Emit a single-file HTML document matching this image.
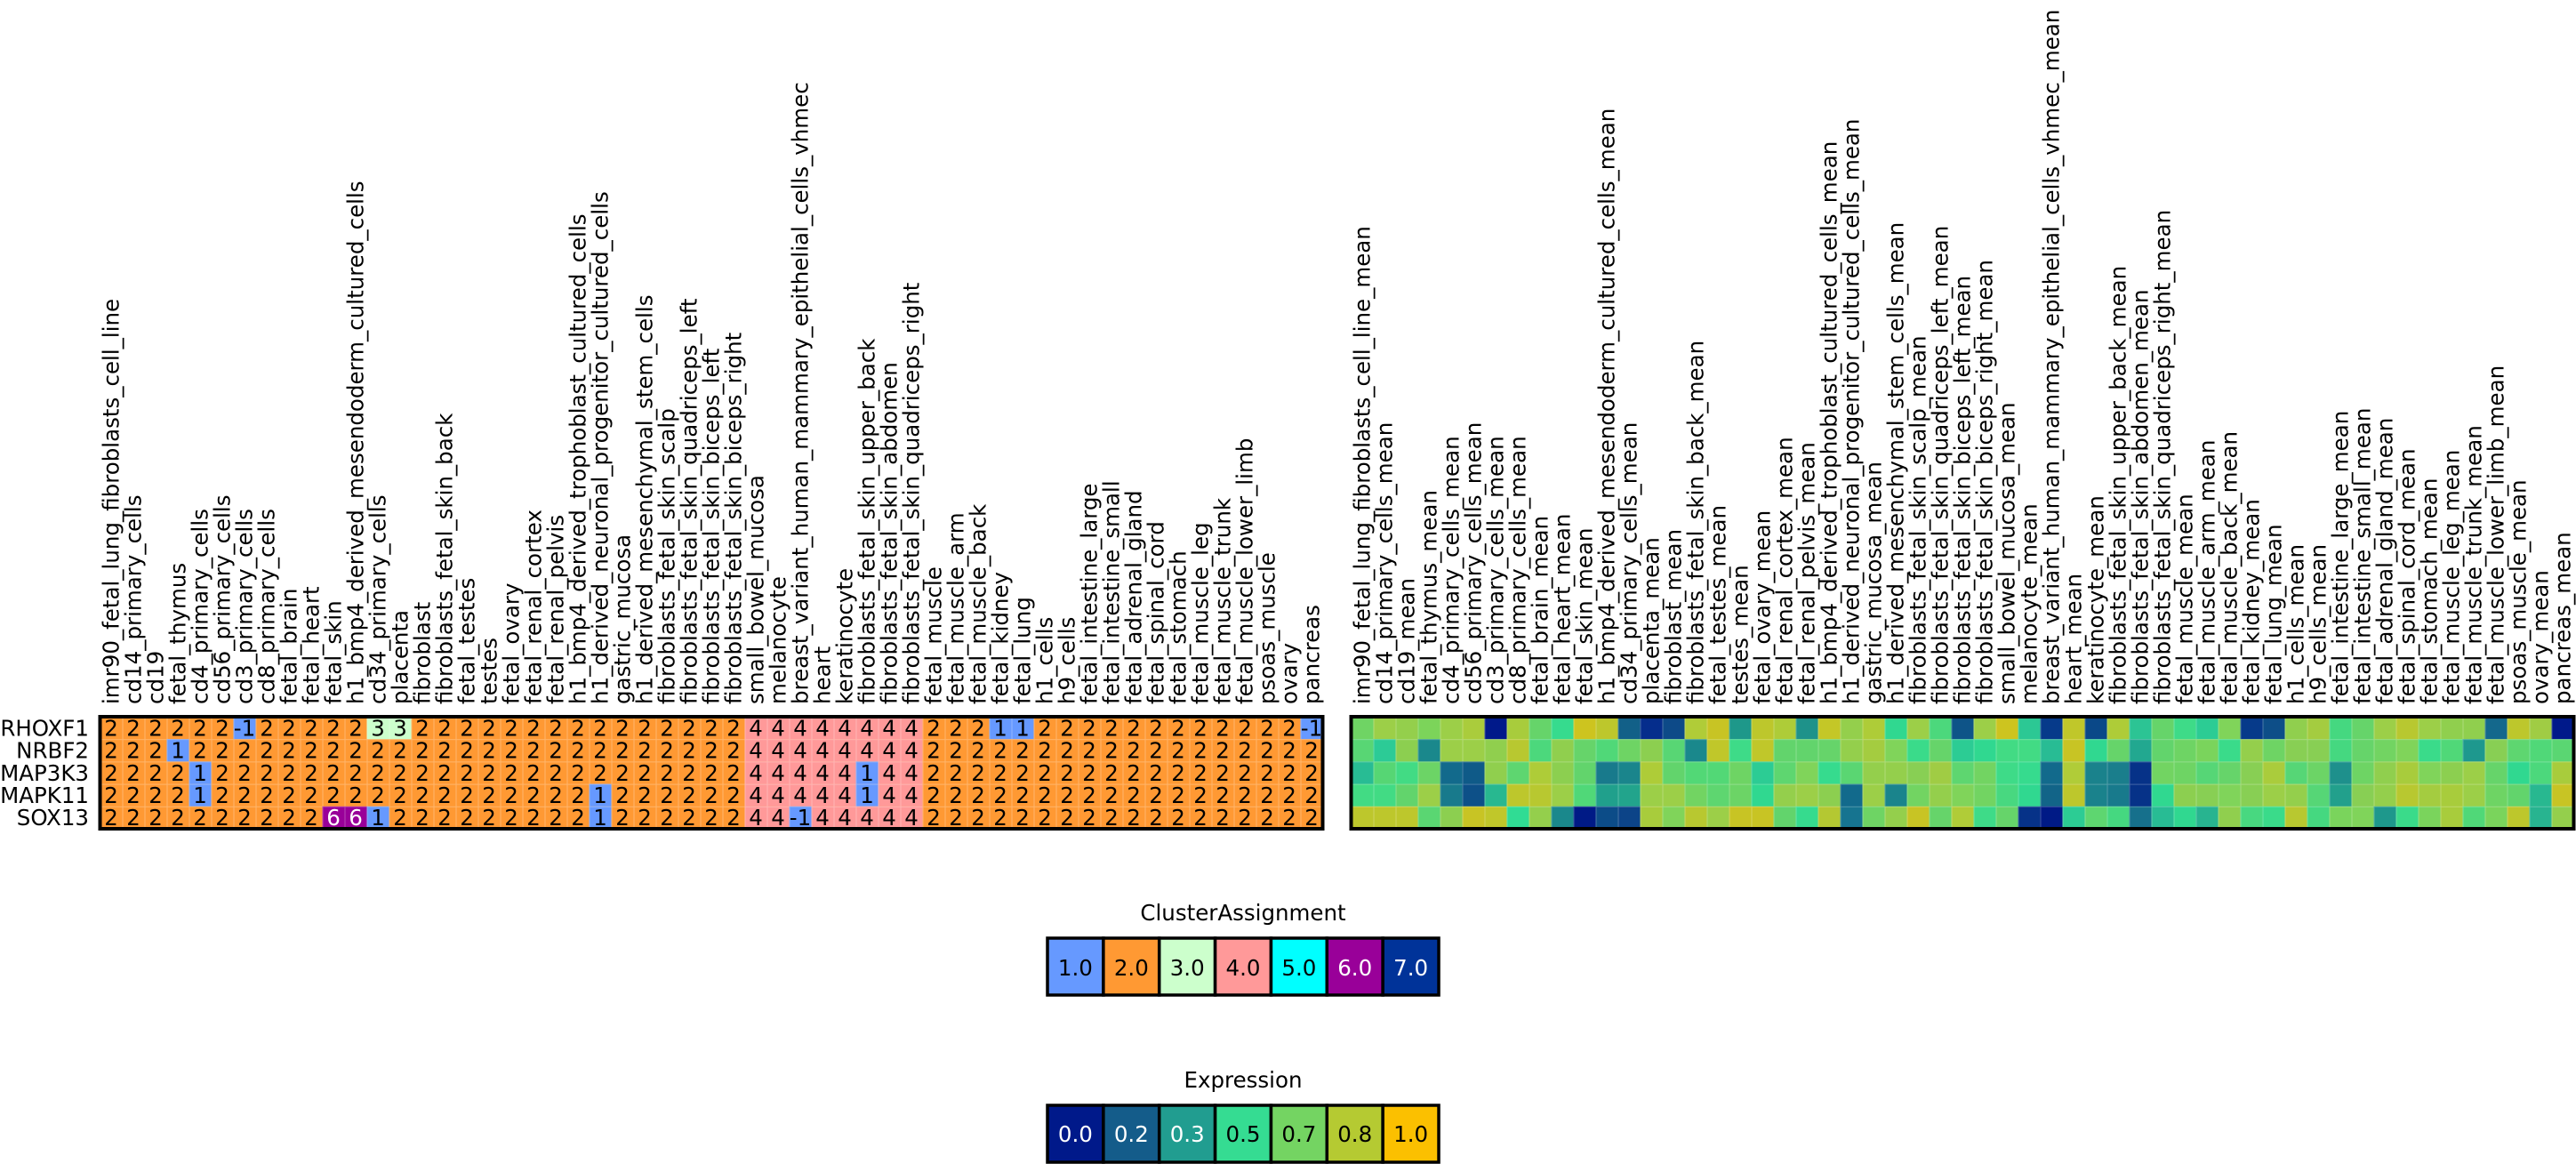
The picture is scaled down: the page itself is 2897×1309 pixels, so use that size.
<!DOCTYPE html>
<html><head><meta charset="utf-8"><style>
html,body{margin:0;padding:0;background:#fff;}
svg{display:block;}
text{font-family:"DejaVu Sans","Liberation Sans",sans-serif;font-size:24.5px;}
</style></head><body>
<svg width="2897" height="1309" viewBox="0 0 2897 1309" xmlns="http://www.w3.org/2000/svg">
<defs>
<pattern id="gl" patternUnits="userSpaceOnUse" x="112.5" y="806" width="25" height="25.2"><path d="M0,0.5H25M0.5,0V25.2" stroke="rgba(255,255,255,0.28)" stroke-width="1" fill="none"/></pattern>
<pattern id="gr" patternUnits="userSpaceOnUse" x="1519.5" y="806" width="25" height="25.2"><path d="M0,0.5H25M0.5,0V25.2" stroke="rgba(255,255,255,0.25)" stroke-width="1" fill="none"/></pattern>
</defs>
<rect width="2897" height="1309" fill="#fff"/>

<!-- column labels left -->
<g transform="translate(0,792) rotate(-90)" fill="#000">
<text x="0" y="125" dy=".35em">imr90_fetal_lung_fibroblasts_cell_line</text>
<text x="0" y="150" dy=".35em">cd14_primary_cells</text>
<text x="0" y="175" dy=".35em">cd19</text>
<text x="0" y="200" dy=".35em">fetal_thymus</text>
<text x="0" y="225" dy=".35em">cd4_primary_cells</text>
<text x="0" y="250" dy=".35em">cd56_primary_cells</text>
<text x="0" y="275" dy=".35em">cd3_primary_cells</text>
<text x="0" y="300" dy=".35em">cd8_primary_cells</text>
<text x="0" y="325" dy=".35em">fetal_brain</text>
<text x="0" y="350" dy=".35em">fetal_heart</text>
<text x="0" y="375" dy=".35em">fetal_skin</text>
<text x="0" y="400" dy=".35em">h1_bmp4_derived_mesendoderm_cultured_cells</text>
<text x="0" y="425" dy=".35em">cd34_primary_cells</text>
<text x="0" y="450" dy=".35em">placenta</text>
<text x="0" y="475" dy=".35em">fibroblast</text>
<text x="0" y="500" dy=".35em">fibroblasts_fetal_skin_back</text>
<text x="0" y="525" dy=".35em">fetal_testes</text>
<text x="0" y="550" dy=".35em">testes</text>
<text x="0" y="575" dy=".35em">fetal_ovary</text>
<text x="0" y="600" dy=".35em">fetal_renal_cortex</text>
<text x="0" y="625" dy=".35em">fetal_renal_pelvis</text>
<text x="0" y="650" dy=".35em">h1_bmp4_derived_trophoblast_cultured_cells</text>
<text x="0" y="675" dy=".35em">h1_derived_neuronal_progenitor_cultured_cells</text>
<text x="0" y="700" dy=".35em">gastric_mucosa</text>
<text x="0" y="725" dy=".35em">h1_derived_mesenchymal_stem_cells</text>
<text x="0" y="750" dy=".35em">fibroblasts_fetal_skin_scalp</text>
<text x="0" y="775" dy=".35em">fibroblasts_fetal_skin_quadriceps_left</text>
<text x="0" y="800" dy=".35em">fibroblasts_fetal_skin_biceps_left</text>
<text x="0" y="825" dy=".35em">fibroblasts_fetal_skin_biceps_right</text>
<text x="0" y="850" dy=".35em">small_bowel_mucosa</text>
<text x="0" y="875" dy=".35em">melanocyte</text>
<text x="0" y="900" dy=".35em">breast_variant_human_mammary_epithelial_cells_vhmec</text>
<text x="0" y="925" dy=".35em">heart</text>
<text x="0" y="950" dy=".35em">keratinocyte</text>
<text x="0" y="975" dy=".35em">fibroblasts_fetal_skin_upper_back</text>
<text x="0" y="1000" dy=".35em">fibroblasts_fetal_skin_abdomen</text>
<text x="0" y="1025" dy=".35em">fibroblasts_fetal_skin_quadriceps_right</text>
<text x="0" y="1050" dy=".35em">fetal_muscle</text>
<text x="0" y="1075" dy=".35em">fetal_muscle_arm</text>
<text x="0" y="1100" dy=".35em">fetal_muscle_back</text>
<text x="0" y="1125" dy=".35em">fetal_kidney</text>
<text x="0" y="1150" dy=".35em">fetal_lung</text>
<text x="0" y="1175" dy=".35em">h1_cells</text>
<text x="0" y="1200" dy=".35em">h9_cells</text>
<text x="0" y="1225" dy=".35em">fetal_intestine_large</text>
<text x="0" y="1250" dy=".35em">fetal_intestine_small</text>
<text x="0" y="1275" dy=".35em">fetal_adrenal_gland</text>
<text x="0" y="1300" dy=".35em">fetal_spinal_cord</text>
<text x="0" y="1325" dy=".35em">fetal_stomach</text>
<text x="0" y="1350" dy=".35em">fetal_muscle_leg</text>
<text x="0" y="1375" dy=".35em">fetal_muscle_trunk</text>
<text x="0" y="1400" dy=".35em">fetal_muscle_lower_limb</text>
<text x="0" y="1425" dy=".35em">psoas_muscle</text>
<text x="0" y="1450" dy=".35em">ovary</text>
<text x="0" y="1475" dy=".35em">pancreas</text>
</g>

<!-- column labels right -->
<g transform="translate(0,792) rotate(-90)" fill="#000">
<text x="0" y="1532" dy=".35em">imr90_fetal_lung_fibroblasts_cell_line_mean</text>
<text x="0" y="1557" dy=".35em">cd14_primary_cells_mean</text>
<text x="0" y="1582" dy=".35em">cd19_mean</text>
<text x="0" y="1607" dy=".35em">fetal_thymus_mean</text>
<text x="0" y="1632" dy=".35em">cd4_primary_cells_mean</text>
<text x="0" y="1657" dy=".35em">cd56_primary_cells_mean</text>
<text x="0" y="1682" dy=".35em">cd3_primary_cells_mean</text>
<text x="0" y="1707" dy=".35em">cd8_primary_cells_mean</text>
<text x="0" y="1732" dy=".35em">fetal_brain_mean</text>
<text x="0" y="1757" dy=".35em">fetal_heart_mean</text>
<text x="0" y="1782" dy=".35em">fetal_skin_mean</text>
<text x="0" y="1807" dy=".35em">h1_bmp4_derived_mesendoderm_cultured_cells_mean</text>
<text x="0" y="1832" dy=".35em">cd34_primary_cells_mean</text>
<text x="0" y="1857" dy=".35em">placenta_mean</text>
<text x="0" y="1882" dy=".35em">fibroblast_mean</text>
<text x="0" y="1907" dy=".35em">fibroblasts_fetal_skin_back_mean</text>
<text x="0" y="1932" dy=".35em">fetal_testes_mean</text>
<text x="0" y="1957" dy=".35em">testes_mean</text>
<text x="0" y="1982" dy=".35em">fetal_ovary_mean</text>
<text x="0" y="2007" dy=".35em">fetal_renal_cortex_mean</text>
<text x="0" y="2032" dy=".35em">fetal_renal_pelvis_mean</text>
<text x="0" y="2057" dy=".35em">h1_bmp4_derived_trophoblast_cultured_cells_mean</text>
<text x="0" y="2082" dy=".35em">h1_derived_neuronal_progenitor_cultured_cells_mean</text>
<text x="0" y="2107" dy=".35em">gastric_mucosa_mean</text>
<text x="0" y="2132" dy=".35em">h1_derived_mesenchymal_stem_cells_mean</text>
<text x="0" y="2157" dy=".35em">fibroblasts_fetal_skin_scalp_mean</text>
<text x="0" y="2182" dy=".35em">fibroblasts_fetal_skin_quadriceps_left_mean</text>
<text x="0" y="2207" dy=".35em">fibroblasts_fetal_skin_biceps_left_mean</text>
<text x="0" y="2232" dy=".35em">fibroblasts_fetal_skin_biceps_right_mean</text>
<text x="0" y="2257" dy=".35em">small_bowel_mucosa_mean</text>
<text x="0" y="2282" dy=".35em">melanocyte_mean</text>
<text x="0" y="2307" dy=".35em">breast_variant_human_mammary_epithelial_cells_vhmec_mean</text>
<text x="0" y="2332" dy=".35em">heart_mean</text>
<text x="0" y="2357" dy=".35em">keratinocyte_mean</text>
<text x="0" y="2382" dy=".35em">fibroblasts_fetal_skin_upper_back_mean</text>
<text x="0" y="2407" dy=".35em">fibroblasts_fetal_skin_abdomen_mean</text>
<text x="0" y="2432" dy=".35em">fibroblasts_fetal_skin_quadriceps_right_mean</text>
<text x="0" y="2457" dy=".35em">fetal_muscle_mean</text>
<text x="0" y="2482" dy=".35em">fetal_muscle_arm_mean</text>
<text x="0" y="2507" dy=".35em">fetal_muscle_back_mean</text>
<text x="0" y="2532" dy=".35em">fetal_kidney_mean</text>
<text x="0" y="2557" dy=".35em">fetal_lung_mean</text>
<text x="0" y="2582" dy=".35em">h1_cells_mean</text>
<text x="0" y="2607" dy=".35em">h9_cells_mean</text>
<text x="0" y="2632" dy=".35em">fetal_intestine_large_mean</text>
<text x="0" y="2657" dy=".35em">fetal_intestine_small_mean</text>
<text x="0" y="2682" dy=".35em">fetal_adrenal_gland_mean</text>
<text x="0" y="2707" dy=".35em">fetal_spinal_cord_mean</text>
<text x="0" y="2732" dy=".35em">fetal_stomach_mean</text>
<text x="0" y="2757" dy=".35em">fetal_muscle_leg_mean</text>
<text x="0" y="2782" dy=".35em">fetal_muscle_trunk_mean</text>
<text x="0" y="2807" dy=".35em">fetal_muscle_lower_limb_mean</text>
<text x="0" y="2832" dy=".35em">psoas_muscle_mean</text>
<text x="0" y="2857" dy=".35em">ovary_mean</text>
<text x="0" y="2882" dy=".35em">pancreas_mean</text>
</g>

<!-- row labels -->
<g text-anchor="end" fill="#000">
<text x="100" y="818.6" dy=".36em">RHOXF1</text>
<text x="100" y="843.8" dy=".36em">NRBF2</text>
<text x="100" y="869" dy=".36em">MAP3K3</text>
<text x="100" y="894.2" dy=".36em">MAPK11</text>
<text x="100" y="919.4" dy=".36em">SOX13</text>
</g>

<!-- LEFT HEATMAP -->
<rect x="112.5" y="806" width="1375" height="126" fill="#ff9933"/>
<g text-anchor="middle" fill="#000">
<text x="125 150 175 200 225 250 275 300 325 350 375 400 425 450 475 500 525 550 575 600 625 650 675 700 725 750 775 800 825 850 875 900 925 950 975 1000 1025 1050 1075 1100 1125 1150 1175 1200 1225 1250 1275 1300 1325 1350 1375 1400 1425 1450 1475" y="818.6" dy=".36em">2222222222222222222222222222222222222222222222222222222</text>
<text x="125 150 175 200 225 250 275 300 325 350 375 400 425 450 475 500 525 550 575 600 625 650 675 700 725 750 775 800 825 850 875 900 925 950 975 1000 1025 1050 1075 1100 1125 1150 1175 1200 1225 1250 1275 1300 1325 1350 1375 1400 1425 1450 1475" y="843.8" dy=".36em">2222222222222222222222222222222222222222222222222222222</text>
<text x="125 150 175 200 225 250 275 300 325 350 375 400 425 450 475 500 525 550 575 600 625 650 675 700 725 750 775 800 825 850 875 900 925 950 975 1000 1025 1050 1075 1100 1125 1150 1175 1200 1225 1250 1275 1300 1325 1350 1375 1400 1425 1450 1475" y="869" dy=".36em">2222222222222222222222222222222222222222222222222222222</text>
<text x="125 150 175 200 225 250 275 300 325 350 375 400 425 450 475 500 525 550 575 600 625 650 675 700 725 750 775 800 825 850 875 900 925 950 975 1000 1025 1050 1075 1100 1125 1150 1175 1200 1225 1250 1275 1300 1325 1350 1375 1400 1425 1450 1475" y="894.2" dy=".36em">2222222222222222222222222222222222222222222222222222222</text>
<text x="125 150 175 200 225 250 275 300 325 350 375 400 425 450 475 500 525 550 575 600 625 650 675 700 725 750 775 800 825 850 875 900 925 950 975 1000 1025 1050 1075 1100 1125 1150 1175 1200 1225 1250 1275 1300 1325 1350 1375 1400 1425 1450 1475" y="919.4" dy=".36em">2222222222222222222222222222222222222222222222222222222</text>
</g>
<!-- non-2 cells -->
<g>
<rect x="262.5" y="806" width="25" height="25.2" fill="#6699ff"/>
<rect x="412.5" y="806" width="50" height="25.2" fill="#ccffcc"/>
<rect x="837.5" y="806" width="200" height="25.2" fill="#ff9999"/>
<rect x="1112.5" y="806" width="50" height="25.2" fill="#6699ff"/>
<rect x="1462.5" y="806" width="25" height="25.2" fill="#6699ff"/>

<rect x="187.5" y="831.2" width="25" height="25.2" fill="#6699ff"/>
<rect x="837.5" y="831.2" width="200" height="25.2" fill="#ff9999"/>

<rect x="212.5" y="856.4" width="25" height="25.2" fill="#6699ff"/>
<rect x="837.5" y="856.4" width="200" height="25.2" fill="#ff9999"/>
<rect x="962.5" y="856.4" width="25" height="25.2" fill="#6699ff"/>

<rect x="212.5" y="881.6" width="25" height="25.2" fill="#6699ff"/>
<rect x="662.5" y="881.6" width="25" height="25.2" fill="#6699ff"/>
<rect x="837.5" y="881.6" width="200" height="25.2" fill="#ff9999"/>
<rect x="962.5" y="881.6" width="25" height="25.2" fill="#6699ff"/>

<rect x="362.5" y="906.8" width="50" height="25.2" fill="#990099"/>
<rect x="412.5" y="906.8" width="25" height="25.2" fill="#6699ff"/>
<rect x="662.5" y="906.8" width="25" height="25.2" fill="#6699ff"/>
<rect x="837.5" y="906.8" width="200" height="25.2" fill="#ff9999"/>
<rect x="887.5" y="906.8" width="25" height="25.2" fill="#6699ff"/>
</g>
<g text-anchor="middle" fill="#000">
<text x="275" y="818.6" dy=".36em">-1</text>
<text x="425 450" y="818.6" dy=".36em">33</text>
<text x="850 875 900 925 950 975 1000 1025" y="818.6" dy=".36em">44444444</text>
<text x="1125 1150" y="818.6" dy=".36em">11</text>
<text x="1475" y="818.6" dy=".36em">-1</text>

<text x="200" y="843.8" dy=".36em">1</text>
<text x="850 875 900 925 950 975 1000 1025" y="843.8" dy=".36em">44444444</text>

<text x="225" y="869" dy=".36em">1</text>
<text x="850 875 900 925 950 1000 1025" y="869" dy=".36em">4444444</text>
<text x="975" y="869" dy=".36em">1</text>

<text x="225" y="894.2" dy=".36em">1</text>
<text x="675" y="894.2" dy=".36em">1</text>
<text x="850 875 900 925 950 1000 1025" y="894.2" dy=".36em">4444444</text>
<text x="975" y="894.2" dy=".36em">1</text>

<text x="375 400" y="919.4" dy=".36em" fill="#fff">66</text>
<text x="425" y="919.4" dy=".36em">1</text>
<text x="675" y="919.4" dy=".36em">1</text>
<text x="850 875 925 950 975 1000 1025" y="919.4" dy=".36em">4444444</text>
<text x="900" y="919.4" dy=".36em">-1</text>
</g>
<rect x="112.5" y="806" width="1375" height="126" fill="url(#gl)"/>
<rect x="112.5" y="806" width="1375" height="126" fill="none" stroke="#000" stroke-width="4"/>

<!-- RIGHT HEATMAP -->
<g transform="translate(1519.5,806)">
<g>
<rect x="0" width="25.4" height="25.6" fill="#6fd464"/><rect x="25" width="25.4" height="25.6" fill="#9ccf48"/><rect x="50" width="25.4" height="25.6" fill="#94cf4c"/><rect x="75" width="25.4" height="25.6" fill="#7cd45a"/><rect x="100" width="25.4" height="25.6" fill="#9ccf48"/><rect x="125" width="25.4" height="25.6" fill="#aacc3c"/><rect x="150" width="25.4" height="25.6" fill="#00198a"/><rect x="175" width="25.4" height="25.6" fill="#a8cc3c"/><rect x="200" width="25.4" height="25.6" fill="#66d46a"/><rect x="225" width="25.4" height="25.6" fill="#36db8e"/>
<rect x="250" width="25.4" height="25.6" fill="#cdc41f"/><rect x="275" width="25.4" height="25.6" fill="#bdc72c"/><rect x="300" width="25.4" height="25.6" fill="#126088"/><rect x="325" width="25.4" height="25.6" fill="#052d8c"/><rect x="350" width="25.4" height="25.6" fill="#0d4a88"/><rect x="375" width="25.4" height="25.6" fill="#b0cc38"/><rect x="400" width="25.4" height="25.6" fill="#c8c424"/><rect x="425" width="25.4" height="25.6" fill="#1e988a"/><rect x="450" width="25.4" height="25.6" fill="#bdc72c"/><rect x="475" width="25.4" height="25.6" fill="#aecc38"/>
<rect x="500" width="25.4" height="25.6" fill="#1e928a"/><rect x="525" width="25.4" height="25.6" fill="#c4c727"/><rect x="550" width="25.4" height="25.6" fill="#94cf4c"/><rect x="575" width="25.4" height="25.6" fill="#aecc38"/><rect x="600" width="25.4" height="25.6" fill="#30d890"/><rect x="625" width="25.4" height="25.6" fill="#9ccf48"/><rect x="650" width="25.4" height="25.6" fill="#4cd87c"/><rect x="675" width="25.4" height="25.6" fill="#0e5488"/><rect x="700" width="25.4" height="25.6" fill="#9ccf48"/><rect x="725" width="25.4" height="25.6" fill="#cdc41f"/>
<rect x="750" width="25.4" height="25.6" fill="#2cc894"/><rect x="775" width="25.4" height="25.6" fill="#063a8a"/><rect x="800" width="25.4" height="25.6" fill="#c0c72a"/><rect x="825" width="25.4" height="25.6" fill="#0a4888"/><rect x="850" width="25.4" height="25.6" fill="#aecc38"/><rect x="875" width="25.4" height="25.6" fill="#2cc494"/><rect x="900" width="25.4" height="25.6" fill="#66d46a"/><rect x="925" width="25.4" height="25.6" fill="#3edb88"/><rect x="950" width="25.4" height="25.6" fill="#2ccc94"/><rect x="975" width="25.4" height="25.6" fill="#80d45a"/>
<rect x="1000" width="25.4" height="25.6" fill="#063a8a"/><rect x="1025" width="25.4" height="25.6" fill="#0d4e88"/><rect x="1050" width="25.4" height="25.6" fill="#90cf4e"/><rect x="1075" width="25.4" height="25.6" fill="#a4cc40"/><rect x="1100" width="25.4" height="25.6" fill="#45d880"/><rect x="1125" width="25.4" height="25.6" fill="#66d46a"/><rect x="1150" width="25.4" height="25.6" fill="#9ccf48"/><rect x="1175" width="25.4" height="25.6" fill="#b8c830"/><rect x="1200" width="25.4" height="25.6" fill="#9ccf48"/><rect x="1225" width="25.4" height="25.6" fill="#90cf4e"/>
<rect x="1250" width="25.4" height="25.6" fill="#90cf4e"/><rect x="1275" width="25.4" height="25.6" fill="#14688c"/><rect x="1300" width="25.4" height="25.6" fill="#bdc72c"/><rect x="1325" width="25.4" height="25.6" fill="#a0cc44"/><rect x="1350" width="25" height="25.6" fill="#00198a"/>
</g>
<g transform="translate(0,25.2)">
<rect x="0" width="25.4" height="25.6" fill="#58d674"/><rect x="25" width="25.4" height="25.6" fill="#2ccb96"/><rect x="50" width="25.4" height="25.6" fill="#8ccf50"/><rect x="75" width="25.4" height="25.6" fill="#1a888c"/><rect x="100" width="25.4" height="25.6" fill="#9ccf48"/><rect x="125" width="25.4" height="25.6" fill="#9ccf48"/><rect x="150" width="25.4" height="25.6" fill="#90cf4e"/><rect x="175" width="25.4" height="25.6" fill="#b8c830"/><rect x="200" width="25.4" height="25.6" fill="#4cd87c"/><rect x="225" width="25.4" height="25.6" fill="#90cf4e"/>
<rect x="250" width="25.4" height="25.6" fill="#66d46a"/><rect x="275" width="25.4" height="25.6" fill="#50d878"/><rect x="300" width="25.4" height="25.6" fill="#6ed464"/><rect x="325" width="25.4" height="25.6" fill="#8ccf50"/><rect x="350" width="25.4" height="25.6" fill="#58d674"/><rect x="375" width="25.4" height="25.6" fill="#1a888c"/><rect x="400" width="25.4" height="25.6" fill="#c0c72a"/><rect x="425" width="25.4" height="25.6" fill="#3edb88"/><rect x="450" width="25.4" height="25.6" fill="#c0c72a"/><rect x="475" width="25.4" height="25.6" fill="#62d46c"/>
<rect x="500" width="25.4" height="25.6" fill="#62d46c"/><rect x="525" width="25.4" height="25.6" fill="#66d46a"/><rect x="550" width="25.4" height="25.6" fill="#94cf4c"/><rect x="575" width="25.4" height="25.6" fill="#a4cc40"/><rect x="600" width="25.4" height="25.6" fill="#80d45a"/><rect x="625" width="25.4" height="25.6" fill="#3adb8a"/><rect x="650" width="25.4" height="25.6" fill="#66d46a"/><rect x="675" width="25.4" height="25.6" fill="#2ccc94"/><rect x="700" width="25.4" height="25.6" fill="#30d890"/><rect x="725" width="25.4" height="25.6" fill="#42db84"/>
<rect x="750" width="25.4" height="25.6" fill="#42db84"/><rect x="775" width="25.4" height="25.6" fill="#28bc94"/><rect x="800" width="25.4" height="25.6" fill="#c8c424"/><rect x="825" width="25.4" height="25.6" fill="#30d890"/><rect x="850" width="25.4" height="25.6" fill="#66d46a"/><rect x="875" width="25.4" height="25.6" fill="#22a890"/><rect x="900" width="25.4" height="25.6" fill="#62d46c"/><rect x="925" width="25.4" height="25.6" fill="#6ed464"/><rect x="950" width="25.4" height="25.6" fill="#7ad45c"/><rect x="975" width="25.4" height="25.6" fill="#3adb8a"/>
<rect x="1000" width="25.4" height="25.6" fill="#94cf4c"/><rect x="1025" width="25.4" height="25.6" fill="#6ed464"/><rect x="1050" width="25.4" height="25.6" fill="#88cf54"/><rect x="1075" width="25.4" height="25.6" fill="#88cf54"/><rect x="1100" width="25.4" height="25.6" fill="#45d880"/><rect x="1125" width="25.4" height="25.6" fill="#66d46a"/><rect x="1150" width="25.4" height="25.6" fill="#72d462"/><rect x="1175" width="25.4" height="25.6" fill="#80d45a"/><rect x="1200" width="25.4" height="25.6" fill="#3adb8a"/><rect x="1225" width="25.4" height="25.6" fill="#50d878"/>
<rect x="1250" width="25.4" height="25.6" fill="#1e988e"/><rect x="1275" width="25.4" height="25.6" fill="#88cf54"/><rect x="1300" width="25.4" height="25.6" fill="#5ed670"/><rect x="1325" width="25.4" height="25.6" fill="#50d878"/><rect x="1350" width="25" height="25.6" fill="#5ad672"/>
</g>
<g transform="translate(0,50.4)">
<rect x="0" width="25.4" height="25.6" fill="#28bc94"/><rect x="25" width="25.4" height="25.6" fill="#56d674"/><rect x="50" width="25.4" height="25.6" fill="#42db84"/><rect x="75" width="25.4" height="25.6" fill="#6cd466"/><rect x="100" width="25.4" height="25.6" fill="#126a8c"/><rect x="125" width="25.4" height="25.6" fill="#0f5a88"/><rect x="150" width="25.4" height="25.6" fill="#90cf4e"/><rect x="175" width="25.4" height="25.6" fill="#5ed670"/><rect x="200" width="25.4" height="25.6" fill="#aecc38"/><rect x="225" width="25.4" height="25.6" fill="#8ccf50"/>
<rect x="250" width="25.4" height="25.6" fill="#62d46c"/><rect x="275" width="25.4" height="25.6" fill="#187a8c"/><rect x="300" width="25.4" height="25.6" fill="#1a858c"/><rect x="325" width="25.4" height="25.6" fill="#aecc38"/><rect x="350" width="25.4" height="25.6" fill="#62d46c"/><rect x="375" width="25.4" height="25.6" fill="#52d876"/><rect x="400" width="25.4" height="25.6" fill="#52d876"/><rect x="425" width="25.4" height="25.6" fill="#6ed464"/><rect x="450" width="25.4" height="25.6" fill="#2ccc94"/><rect x="475" width="25.4" height="25.6" fill="#5ed670"/>
<rect x="500" width="25.4" height="25.6" fill="#80d45a"/><rect x="525" width="25.4" height="25.6" fill="#36db8e"/><rect x="550" width="25.4" height="25.6" fill="#5ad672"/><rect x="575" width="25.4" height="25.6" fill="#94cf4c"/><rect x="600" width="25.4" height="25.6" fill="#94cf4c"/><rect x="625" width="25.4" height="25.6" fill="#88cf54"/><rect x="650" width="25.4" height="25.6" fill="#a0cc44"/><rect x="675" width="25.4" height="25.6" fill="#5ed670"/><rect x="700" width="25.4" height="25.6" fill="#72d462"/><rect x="725" width="25.4" height="25.6" fill="#3edb88"/>
<rect x="750" width="25.4" height="25.6" fill="#36db8e"/><rect x="775" width="25.4" height="25.6" fill="#126a8c"/><rect x="800" width="25.4" height="25.6" fill="#b0cc38"/><rect x="825" width="25.4" height="25.6" fill="#1a828c"/><rect x="850" width="25.4" height="25.6" fill="#1a7e8c"/><rect x="875" width="25.4" height="25.6" fill="#063288"/><rect x="900" width="25.4" height="25.6" fill="#72d462"/><rect x="925" width="25.4" height="25.6" fill="#6ed464"/><rect x="950" width="25.4" height="25.6" fill="#56d676"/><rect x="975" width="25.4" height="25.6" fill="#66d46a"/>
<rect x="1000" width="25.4" height="25.6" fill="#88cf54"/><rect x="1025" width="25.4" height="25.6" fill="#aacc3c"/><rect x="1050" width="25.4" height="25.6" fill="#56d676"/><rect x="1075" width="25.4" height="25.6" fill="#6cd466"/><rect x="1100" width="25.4" height="25.6" fill="#1e908c"/><rect x="1125" width="25.4" height="25.6" fill="#6ed464"/><rect x="1150" width="25.4" height="25.6" fill="#90cf4e"/><rect x="1175" width="25.4" height="25.6" fill="#a8cc3c"/><rect x="1200" width="25.4" height="25.6" fill="#80d45a"/><rect x="1225" width="25.4" height="25.6" fill="#8ccf50"/>
<rect x="1250" width="25.4" height="25.6" fill="#9ccf48"/><rect x="1275" width="25.4" height="25.6" fill="#66d46a"/><rect x="1300" width="25.4" height="25.6" fill="#30d890"/><rect x="1325" width="25.4" height="25.6" fill="#4cd87c"/><rect x="1350" width="25" height="25.6" fill="#a8cc3c"/>
</g>
<g transform="translate(0,75.6)">
<rect x="0" width="25.4" height="25.6" fill="#42db84"/><rect x="25" width="25.4" height="25.6" fill="#42db84"/><rect x="50" width="25.4" height="25.6" fill="#62d46c"/><rect x="75" width="25.4" height="25.6" fill="#9ccf48"/><rect x="100" width="25.4" height="25.6" fill="#187a8c"/><rect x="125" width="25.4" height="25.6" fill="#0d5088"/><rect x="150" width="25.4" height="25.6" fill="#28b890"/><rect x="175" width="25.4" height="25.6" fill="#bdc72c"/><rect x="200" width="25.4" height="25.6" fill="#b8c830"/><rect x="225" width="25.4" height="25.6" fill="#9ccf48"/>
<rect x="250" width="25.4" height="25.6" fill="#50d878"/><rect x="275" width="25.4" height="25.6" fill="#20a08c"/><rect x="300" width="25.4" height="25.6" fill="#22a48c"/><rect x="325" width="25.4" height="25.6" fill="#9ccf48"/><rect x="350" width="25.4" height="25.6" fill="#9ccf48"/><rect x="375" width="25.4" height="25.6" fill="#72d462"/><rect x="400" width="25.4" height="25.6" fill="#5ed670"/><rect x="425" width="25.4" height="25.6" fill="#6cd466"/><rect x="450" width="25.4" height="25.6" fill="#30d890"/><rect x="475" width="25.4" height="25.6" fill="#94cf4c"/>
<rect x="500" width="25.4" height="25.6" fill="#9ccf48"/><rect x="525" width="25.4" height="25.6" fill="#8ccf50"/><rect x="550" width="25.4" height="25.6" fill="#126a8c"/><rect x="575" width="25.4" height="25.6" fill="#9ccf48"/><rect x="600" width="25.4" height="25.6" fill="#1a848c"/><rect x="625" width="25.4" height="25.6" fill="#72d462"/><rect x="650" width="25.4" height="25.6" fill="#94cf4c"/><rect x="675" width="25.4" height="25.6" fill="#80d45a"/><rect x="700" width="25.4" height="25.6" fill="#72d462"/><rect x="725" width="25.4" height="25.6" fill="#48d880"/>
<rect x="750" width="25.4" height="25.6" fill="#30d890"/><rect x="775" width="25.4" height="25.6" fill="#126488"/><rect x="800" width="25.4" height="25.6" fill="#bdc72c"/><rect x="825" width="25.4" height="25.6" fill="#1a828c"/><rect x="850" width="25.4" height="25.6" fill="#187a8c"/><rect x="875" width="25.4" height="25.6" fill="#063288"/><rect x="900" width="25.4" height="25.6" fill="#30d890"/><rect x="925" width="25.4" height="25.6" fill="#8ccf50"/><rect x="950" width="25.4" height="25.6" fill="#88cf54"/><rect x="975" width="25.4" height="25.6" fill="#80d45a"/>
<rect x="1000" width="25.4" height="25.6" fill="#88cf54"/><rect x="1025" width="25.4" height="25.6" fill="#9ccf48"/><rect x="1050" width="25.4" height="25.6" fill="#94cf4c"/><rect x="1075" width="25.4" height="25.6" fill="#56d676"/><rect x="1100" width="25.4" height="25.6" fill="#22a08c"/><rect x="1125" width="25.4" height="25.6" fill="#88cf54"/><rect x="1150" width="25.4" height="25.6" fill="#94cf4c"/><rect x="1175" width="25.4" height="25.6" fill="#b8c830"/><rect x="1200" width="25.4" height="25.6" fill="#a4cc40"/><rect x="1225" width="25.4" height="25.6" fill="#a8cc3c"/>
<rect x="1250" width="25.4" height="25.6" fill="#9ccf48"/><rect x="1275" width="25.4" height="25.6" fill="#6ed464"/><rect x="1300" width="25.4" height="25.6" fill="#62d46c"/><rect x="1325" width="25.4" height="25.6" fill="#28b890"/><rect x="1350" width="25" height="25.6" fill="#c8c424"/>
</g>
<g transform="translate(0,100.8)">
<rect x="0" width="25.4" height="25.2" fill="#bdc72c"/><rect x="25" width="25.4" height="25.2" fill="#bdc72c"/><rect x="50" width="25.4" height="25.2" fill="#bdc72c"/><rect x="75" width="25.4" height="25.2" fill="#5ad672"/><rect x="100" width="25.4" height="25.2" fill="#8ccf50"/><rect x="125" width="25.4" height="25.2" fill="#c8c424"/><rect x="150" width="25.4" height="25.2" fill="#c0c72a"/><rect x="175" width="25.4" height="25.2" fill="#30dc94"/><rect x="200" width="25.4" height="25.2" fill="#94cf4c"/><rect x="225" width="25.4" height="25.2" fill="#1a888c"/>
<rect x="250" width="25.4" height="25.2" fill="#001a86"/><rect x="275" width="25.4" height="25.2" fill="#0c4c88"/><rect x="300" width="25.4" height="25.2" fill="#0c4488"/><rect x="325" width="25.4" height="25.2" fill="#a8cc3c"/><rect x="350" width="25.4" height="25.2" fill="#80d45a"/><rect x="375" width="25.4" height="25.2" fill="#b8c830"/><rect x="400" width="25.4" height="25.2" fill="#9ccf48"/><rect x="425" width="25.4" height="25.2" fill="#c8c424"/><rect x="450" width="25.4" height="25.2" fill="#c8c424"/><rect x="475" width="25.4" height="25.2" fill="#62d46c"/>
<rect x="500" width="25.4" height="25.2" fill="#36db8e"/><rect x="525" width="25.4" height="25.2" fill="#b4c832"/><rect x="550" width="25.4" height="25.2" fill="#167490"/><rect x="575" width="25.4" height="25.2" fill="#6ed464"/><rect x="600" width="25.4" height="25.2" fill="#94cf4c"/><rect x="625" width="25.4" height="25.2" fill="#c8c424"/><rect x="650" width="25.4" height="25.2" fill="#66d46a"/><rect x="675" width="25.4" height="25.2" fill="#b0cc38"/><rect x="700" width="25.4" height="25.2" fill="#3edb88"/><rect x="725" width="25.4" height="25.2" fill="#66d46a"/>
<rect x="750" width="25.4" height="25.2" fill="#063288"/><rect x="775" width="25.4" height="25.2" fill="#001a86"/><rect x="800" width="25.4" height="25.2" fill="#2ccc94"/><rect x="825" width="25.4" height="25.2" fill="#5ed670"/><rect x="850" width="25.4" height="25.2" fill="#45d880"/><rect x="875" width="25.4" height="25.2" fill="#16708c"/><rect x="900" width="25.4" height="25.2" fill="#28bc94"/><rect x="925" width="25.4" height="25.2" fill="#30d890"/><rect x="950" width="25.4" height="25.2" fill="#28b490"/><rect x="975" width="25.4" height="25.2" fill="#90cf4e"/>
<rect x="1000" width="25.4" height="25.2" fill="#48d880"/><rect x="1025" width="25.4" height="25.2" fill="#3adb8a"/><rect x="1050" width="25.4" height="25.2" fill="#b8c830"/><rect x="1075" width="25.4" height="25.2" fill="#45d880"/><rect x="1100" width="25.4" height="25.2" fill="#7ad45c"/><rect x="1125" width="25.4" height="25.2" fill="#80d45a"/><rect x="1150" width="25.4" height="25.2" fill="#1e988c"/><rect x="1175" width="25.4" height="25.2" fill="#3adb8a"/><rect x="1200" width="25.4" height="25.2" fill="#7ad45c"/><rect x="1225" width="25.4" height="25.2" fill="#a8cc3c"/>
<rect x="1250" width="25.4" height="25.2" fill="#50d878"/><rect x="1275" width="25.4" height="25.2" fill="#7ad45c"/><rect x="1300" width="25.4" height="25.2" fill="#bdc72c"/><rect x="1325" width="25.4" height="25.2" fill="#28b490"/><rect x="1350" width="25" height="25.2" fill="#94cf4c"/>
</g>
</g>
<rect x="1519.5" y="806" width="1375" height="126" fill="url(#gr)"/>
<rect x="1519.5" y="806" width="1375" height="126" fill="none" stroke="#000" stroke-width="4"/>

<!-- LEGEND: ClusterAssignment -->
<text x="1398" y="1035" text-anchor="middle" fill="#000">ClusterAssignment</text>
<g stroke="#000" stroke-width="3.5">
<rect x="1178" y="1055" width="62.86" height="64" fill="#6699ff"/>
<rect x="1240.86" y="1055" width="62.86" height="64" fill="#ff9933"/>
<rect x="1303.72" y="1055" width="62.86" height="64" fill="#ccffcc"/>
<rect x="1366.58" y="1055" width="62.86" height="64" fill="#ff9999"/>
<rect x="1429.44" y="1055" width="62.86" height="64" fill="#00ffff"/>
<rect x="1492.3" y="1055" width="62.86" height="64" fill="#990099"/>
<rect x="1555.16" y="1055" width="62.86" height="64" fill="#003399"/>
</g>
<g text-anchor="middle">
<text x="1209.4" y="1097" fill="#000">1.0</text>
<text x="1272.3" y="1097" fill="#000">2.0</text>
<text x="1335.2" y="1097" fill="#000">3.0</text>
<text x="1398" y="1097" fill="#000">4.0</text>
<text x="1460.9" y="1097" fill="#000">5.0</text>
<text x="1523.7" y="1097" fill="#fff">6.0</text>
<text x="1586.6" y="1097" fill="#fff">7.0</text>
</g>

<!-- LEGEND: Expression -->
<text x="1398" y="1223" text-anchor="middle" fill="#000">Expression</text>
<g stroke="#000" stroke-width="3.5">
<rect x="1178" y="1243" width="62.86" height="64" fill="#00198a"/>
<rect x="1240.86" y="1243" width="62.86" height="64" fill="#145c8a"/>
<rect x="1303.72" y="1243" width="62.86" height="64" fill="#219d90"/>
<rect x="1366.58" y="1243" width="62.86" height="64" fill="#35dc92"/>
<rect x="1429.44" y="1243" width="62.86" height="64" fill="#74d462"/>
<rect x="1492.3" y="1243" width="62.86" height="64" fill="#b5ca32"/>
<rect x="1555.16" y="1243" width="62.86" height="64" fill="#fbc000"/>
</g>
<g text-anchor="middle">
<text x="1209.4" y="1284" fill="#fff">0.0</text>
<text x="1272.3" y="1284" fill="#fff">0.2</text>
<text x="1335.2" y="1284" fill="#fff">0.3</text>
<text x="1398" y="1284" fill="#000">0.5</text>
<text x="1460.9" y="1284" fill="#000">0.7</text>
<text x="1523.7" y="1284" fill="#000">0.8</text>
<text x="1586.6" y="1284" fill="#000">1.0</text>
</g>
</svg>
</body></html>
